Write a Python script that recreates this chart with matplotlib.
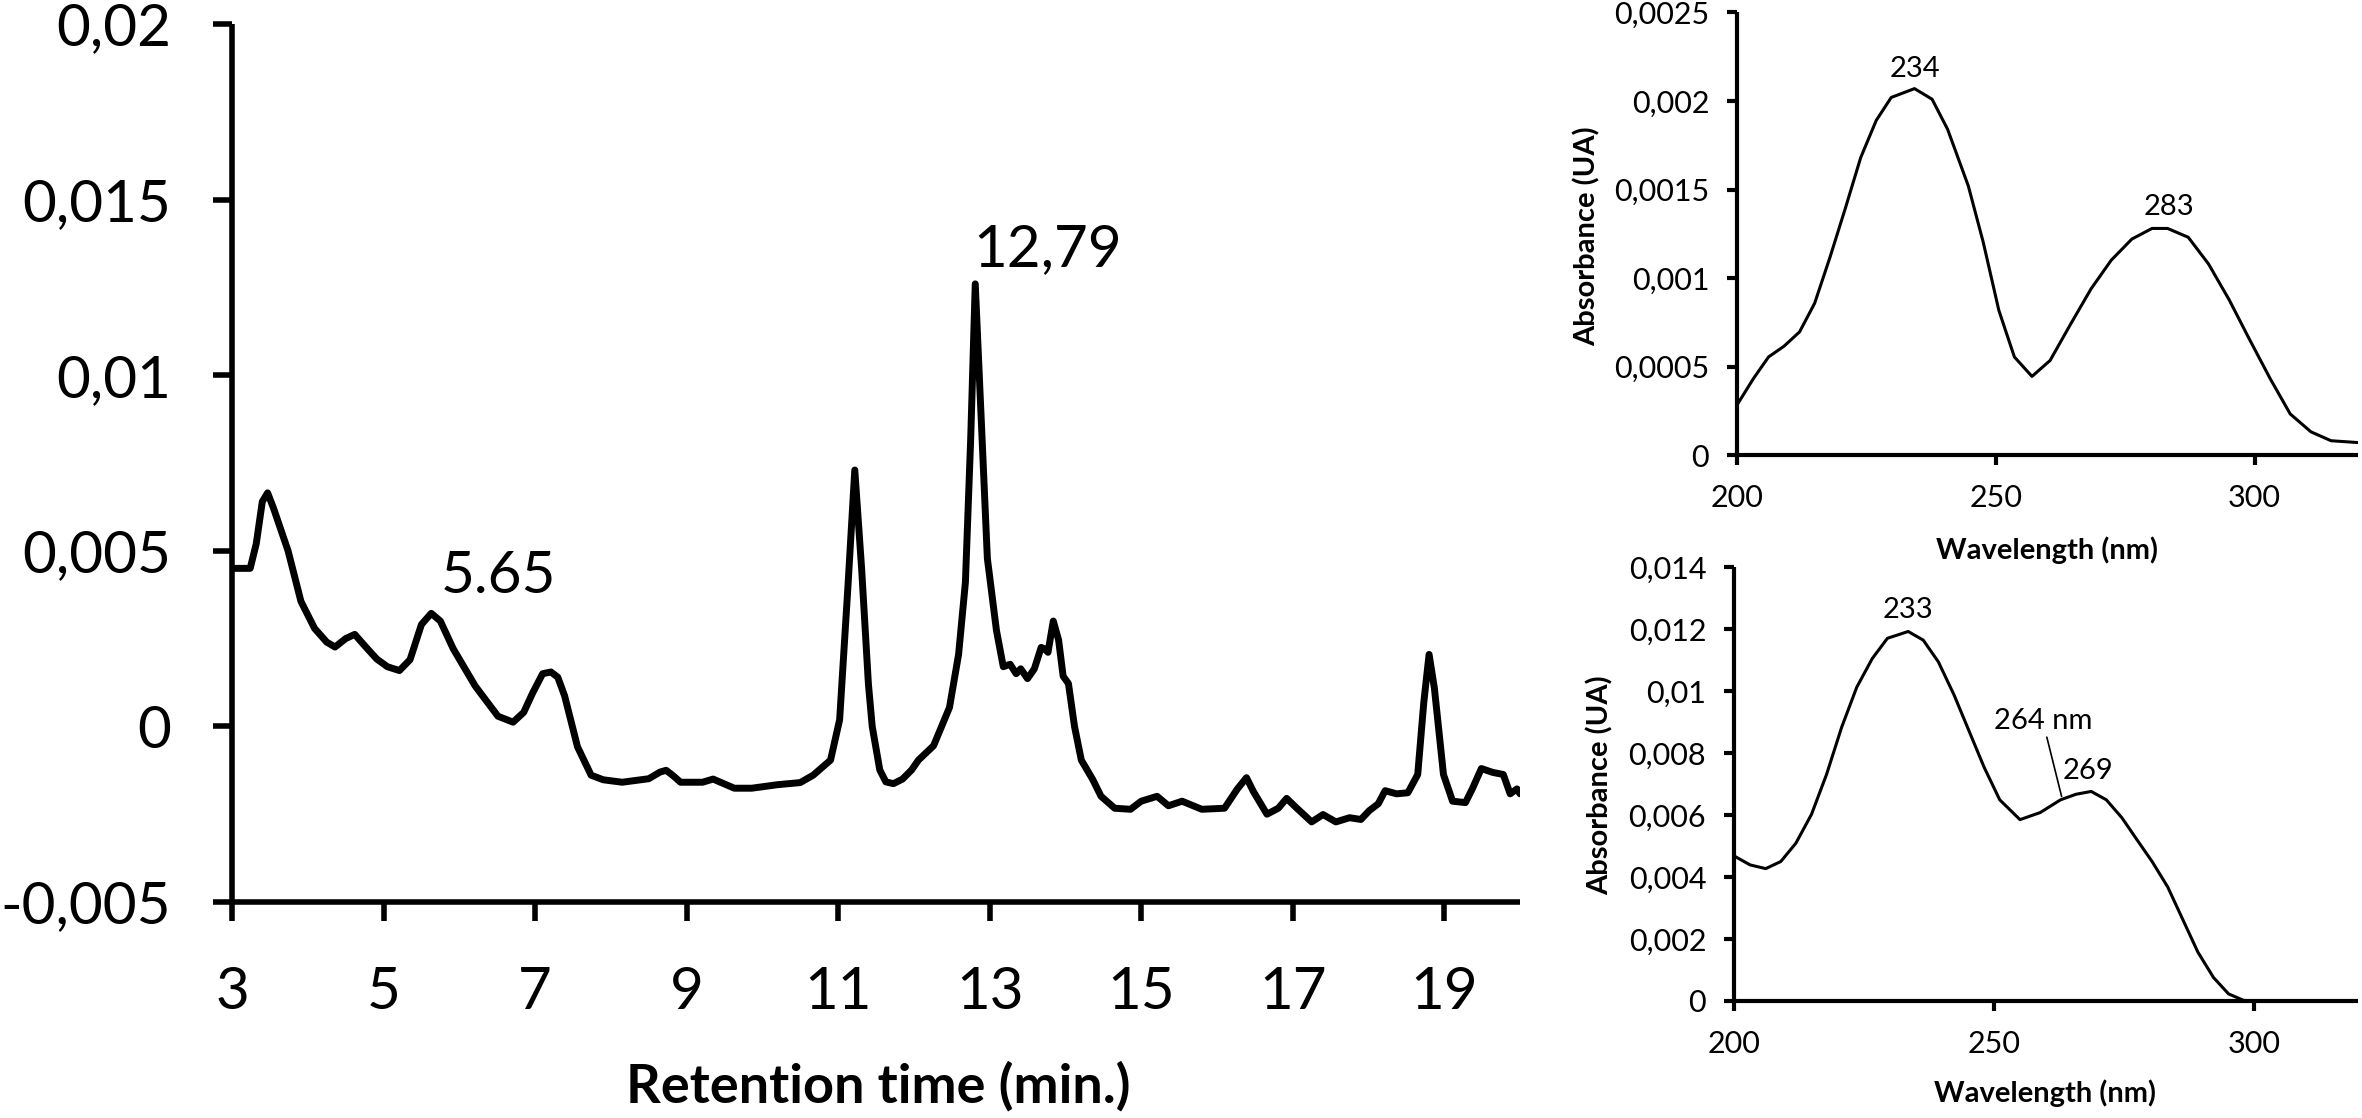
import numpy as np
import matplotlib
matplotlib.use("Agg")
import matplotlib.pyplot as plt

plt.rcParams['font.family'] = ['Lato', 'DejaVu Sans']

# chromatogram (retention time in min, signal in UA)
rt = [3.0, 3.24, 3.32, 3.40, 3.47, 3.55, 3.74, 3.91, 4.09, 4.25, 4.36, 4.5, 4.62, 4.75,
      4.91, 5.05, 5.21, 5.35, 5.5, 5.63, 5.75, 5.92, 6.21, 6.51, 6.71, 6.85, 6.97, 7.1,
      7.21, 7.3, 7.39, 7.56, 7.74, 7.9, 8.15, 8.5, 8.65, 8.73, 8.82, 8.92, 9.21, 9.35,
      9.63, 9.86, 10.2, 10.5, 10.67, 10.9, 11.02, 11.13, 11.22, 11.31, 11.4, 11.45,
      11.55, 11.63, 11.73, 11.85, 11.97, 12.06, 12.26, 12.47, 12.59, 12.68, 12.75,
      12.81, 12.9, 12.97, 13.09, 13.18, 13.27, 13.35, 13.41, 13.5, 13.59, 13.68, 13.73,
      13.77, 13.84, 13.91, 13.97, 14.04, 14.12, 14.21, 14.36, 14.47, 14.65, 14.86, 15.0,
      15.21, 15.36, 15.54, 15.8, 16.1, 16.27, 16.39, 16.48, 16.66, 16.81, 16.92, 17.04,
      17.25, 17.4, 17.57, 17.75, 17.9, 18.01, 18.13, 18.22, 18.37, 18.52, 18.65, 18.73,
      18.8, 18.87, 18.99, 19.11, 19.28, 19.37, 19.49, 19.64, 19.78, 19.87, 19.96, 20.0]
signal = [0.0045, 0.0045, 0.0052, 0.0064, 0.00665, 0.0062, 0.0050, 0.00356, 0.00279,
          0.0024, 0.00226, 0.0025, 0.00262, 0.0023, 0.00192, 0.0017, 0.00159, 0.0019,
          0.0029, 0.00322, 0.0030, 0.00221, 0.00115, 0.00029, 0.00012, 0.0004, 0.00096,
          0.0015, 0.00155, 0.0014, 0.00087, -0.00058, -0.00139, -0.00152, -0.00159,
          -0.00149, -0.0013, -0.00125, -0.0014, -0.00159, -0.00159, -0.0015, -0.00176,
          -0.00176, -0.00166, -0.0016, -0.00139, -0.00096, 0.00019, 0.0040, 0.0073,
          0.0045, 0.0012, 0.0, -0.00124, -0.00158, -0.00163, -0.0015, -0.00124,
          -0.00096, -0.00055, 0.00054, 0.00205, 0.0041, 0.0082, 0.0126, 0.0082, 0.00478,
          0.00273, 0.0017, 0.00177, 0.0015, 0.00164, 0.00136, 0.00164, 0.00225, 0.0022,
          0.00211, 0.0030, 0.00246, 0.00143, 0.00122, 0.0, -0.00096, -0.00151, -0.00199,
          -0.00233, -0.00236, -0.00213, -0.00199, -0.00226, -0.00213, -0.00236, -0.00233,
          -0.00178, -0.00146, -0.00185, -0.0025, -0.00233, -0.00205, -0.0023, -0.00272,
          -0.00251, -0.00272, -0.0026, -0.00265, -0.0024, -0.0022, -0.00183, -0.00192,
          -0.00189, -0.00137, 0.00068, 0.00205, 0.00109, -0.00137, -0.00213, -0.00217,
          -0.00178, -0.0012, -0.00131, -0.00137, -0.00192, -0.00178, -0.00192]

# UV spectrum of the peak (top)
wl_a = [200.2, 203.2, 206.1, 209.1, 212.1, 215.0, 218.0, 221.0, 223.9, 226.9, 229.8,
        234.3, 237.7, 240.7, 244.7, 247.6, 250.6, 253.6, 257.0, 260.5, 264.4, 268.4,
        272.3, 276.3, 280.2, 283.2, 287.2, 291.1, 295.1, 299.0, 303.0, 306.9, 310.9,
        314.8, 319.8]
abs_a = [0.000292, 0.000433, 0.000554, 0.000615, 0.000696, 0.000857, 0.00112, 0.0014,
         0.00168, 0.00189, 0.00202, 0.00207, 0.00201, 0.00184, 0.00152, 0.0012, 0.000817,
         0.000554, 0.000444, 0.000534, 0.000736, 0.000938, 0.0011, 0.00122, 0.00128,
         0.00128, 0.00123, 0.00108, 0.000877, 0.000655, 0.000433, 0.000232, 0.000131,
         0.0000806, 0.0000706]

# UV spectrum (bottom)
wl_b = [200.0, 203.1, 206.1, 209.0, 211.9, 214.9, 217.8, 220.7, 223.6, 226.6, 229.5,
        233.5, 236.4, 239.3, 242.3, 245.2, 248.1, 251.1, 255.0, 258.9, 262.8, 265.8,
        268.7, 271.6, 274.6, 277.5, 280.4, 283.4, 286.3, 289.2, 292.2, 295.1, 298.0,
        300.0]
abs_b = [0.00468, 0.00439, 0.00427, 0.0045, 0.00509, 0.00602, 0.00731, 0.00883, 0.01012,
         0.01105, 0.0117, 0.01192, 0.01164, 0.01094, 0.00988, 0.00871, 0.00754, 0.00649,
         0.00585, 0.00608, 0.00649, 0.00667, 0.00676, 0.00649, 0.00591, 0.0052, 0.0045,
         0.00368, 0.00263, 0.00158, 0.00076, 0.00023, 0.00002, 0.0]

main_yticks = [-0.005, 0, 0.005, 0.01, 0.015, 0.02]
main_ylabels = ['-0,005', '0', '0,005', '0,01', '0,015', '0,02']
main_xticks = [3, 5, 7, 9, 11, 13, 15, 17, 19]
top_yticks = [0, 0.0005, 0.001, 0.0015, 0.002, 0.0025]
top_ylabels = ['0', '0,0005', '0,001', '0,0015', '0,002', '0,0025']
bot_yticks = [0, 0.002, 0.004, 0.006, 0.008, 0.01, 0.012, 0.014]
bot_ylabels = ['0', '0,002', '0,004', '0,006', '0,008', '0,01', '0,012', '0,014']
wl_ticks = [200, 250, 300]

W, H = 2362, 1118
fig = plt.figure(figsize=(W / 100, H / 100), dpi=100)


def px_axes(left, top, right, bottom):
    return fig.add_axes([left / W, 1 - bottom / H, (right - left) / W, (bottom - top) / H])


def style(ax, spine_lw, tick_len, pad_x, pad_y, fs):
    for s in ['top', 'right']:
        ax.spines[s].set_visible(False)
    for s in ['left', 'bottom']:
        ax.spines[s].set_linewidth(spine_lw)
        ax.spines[s].set_capstyle('butt')
    ax.tick_params(axis='both', direction='out', length=tick_len, width=spine_lw,
                   labelsize=fs, colors='black')
    ax.tick_params(axis='x', pad=pad_x)
    ax.tick_params(axis='y', pad=pad_y)


# main chromatogram
ax = px_axes(232, 24, 1520, 902)
ax.plot(rt, signal, color='black', lw=5, solid_joinstyle='round', solid_capstyle='round')
ax.set_xlim(3, 20)
ax.set_ylim(-0.005, 0.02)
ax.set_xticks(main_xticks, [str(t) for t in main_xticks])
ax.set_yticks(main_yticks, main_ylabels)
style(ax, 4, 14, 32, 30, 42)
ax.text(5.75, 0.0038, '5.65', fontsize=42, va='baseline', ha='left')
ax.text(12.78, 0.0131, '12,79', fontsize=42, va='baseline', ha='left')
fig.text(878 / W, 1 - 1103 / H, 'Retention time (min.)', fontsize=39, fontweight='bold',
         ha='center', va='baseline')

# top spectrum
ax2 = px_axes(1737, 12.5, 2358, 455)
ax2.plot(wl_a, abs_a, color='black', lw=2.2, solid_joinstyle='round')
ax2.set_xlim(200, 320)
ax2.set_ylim(0, 0.0025)
ax2.set_xticks(wl_ticks, [str(t) for t in wl_ticks])
ax2.set_yticks(top_yticks, top_ylabels)
style(ax2, 3, 7, 14, 13, 22)
ax2.text(234.3, 0.00211, '234', fontsize=21, ha='center', va='bottom')
ax2.text(283.5, 0.00133, '283', fontsize=21, ha='center', va='bottom')
fig.text(1587 / W, 1 - 236 / H, 'Absorbance (UA)', fontsize=21, fontweight='bold',
         rotation=90, ha='center', va='center')
fig.text(2047 / W, 1 - 550 / H, 'Wavelength (nm)', fontsize=21, fontweight='bold',
         ha='center', va='center')

# bottom spectrum
ax3 = px_axes(1734, 567, 2358, 1001)
ax3.plot(wl_b, abs_b, color='black', lw=2.2, solid_joinstyle='round')
ax3.set_xlim(200, 320)
ax3.set_ylim(0, 0.014)
ax3.set_xticks(wl_ticks, [str(t) for t in wl_ticks])
ax3.set_yticks(bot_yticks, bot_ylabels)
style(ax3, 3, 7, 14, 13, 22)
ax3.text(233.5, 0.0122, '233', fontsize=21, ha='center', va='bottom')
ax3.text(268.0, 0.0070, '269', fontsize=21, ha='center', va='bottom')
ax3.annotate('264 nm', xy=(263.0, 0.0066), xytext=(259.4, 0.0086),
             fontsize=21, ha='center', va='bottom',
             arrowprops=dict(arrowstyle='-', color='black', lw=1.2,
                             shrinkA=0, shrinkB=0))
fig.text(1600 / W, 1 - 785 / H, 'Absorbance (UA)', fontsize=21, fontweight='bold',
         rotation=90, ha='center', va='center')
fig.text(2045 / W, 1 - 1093 / H, 'Wavelength (nm)', fontsize=21, fontweight='bold',
         ha='center', va='center')

fig.savefig('out.png', dpi=100, facecolor='white')
